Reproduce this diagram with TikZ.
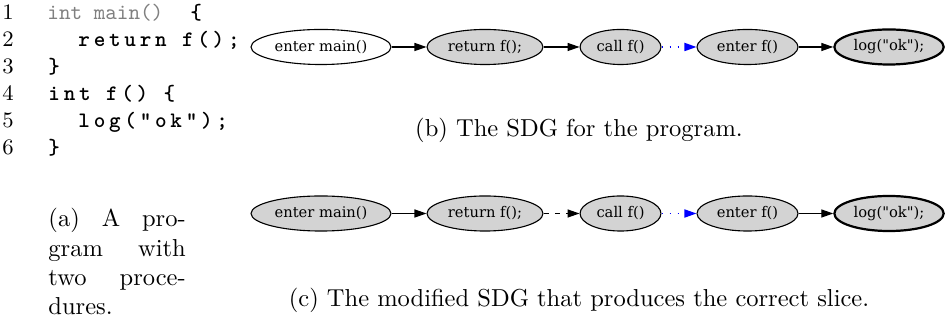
\documentclass[tikz,border=0pt]{standalone}
\usepackage{fontspec}
\newfontfamily\gvfont{DejaVu Serif}
\newfontfamily\codebf{lmmonolt10-bold.otf}[LetterSpace=17]
\newfontfamily\codereg{lmmono10-regular.otf}
\usetikzlibrary{shapes.geometric,arrows.meta}
\definecolor{nodegray}{RGB}{211,211,211}
\definecolor{codegray}{RGB}{128,128,128}
\begin{document}
\begin{tikzpicture}[x=0.408pt,y=-0.408pt,
  gv/.style={ellipse,draw=black,line width=0.45pt,inner sep=0pt,
    font=\gvfont\fontsize{6}{7}\selectfont,minimum height=14.3pt},
  gvg/.style={gv,fill=nodegray},
  gvw/.style={gv,fill=white},
  crit/.style={line width=0.9pt},
  tip/.style={-{Triangle[length=4.9pt,width=3.3pt]}},
  gvedge/.style={tip,draw=black,line width=0.45pt},
  calledge/.style={-{Triangle[length=4.9pt,width=3.3pt,fill=blue]},draw=blue,line width=0.6pt,dash pattern=on 0.6pt off 2.7pt},
  dashedge/.style={gvedge,dash pattern=on 2.3pt off 2.3pt},
  lnum/.style={anchor=base west,inner sep=0pt,font=\fontsize{9}{11}\selectfont},
  codeb/.style={anchor=base west,inner sep=0pt,font=\codebf\fontsize{9}{11}\selectfont},
  codeg/.style={anchor=base west,inner sep=0pt,font=\codereg\fontsize{9}{11}\selectfont,text=codegray},
  captext/.style={anchor=base,inner sep=0pt,font=\fontsize{10}{12}\selectfont}
]
\useasboundingbox (0,0) rectangle (945,320);

% code listing
\node[lnum] (n1) at (2,20) {1};
\node[lnum] (n2) at (2,47) {2};
\node[lnum] (n3) at (2,74) {3};
\node[lnum] (n4) at (2,101) {4};
\node[lnum] (n5) at (2,128) {5};
\node[lnum] (n6) at (2,155) {6};
\node[codeg] (c1) at (47,20) {int main()};
\node[codeb] (c1b) at (190,20) {\{};
\node[codeb] (c2) at (78,47) {return f();};
\node[codeb] (c3) at (48,74) {\}};
\node[codeb] (c4) at (48,101) {int f() \{};
\node[codeb] (c5) at (78,128) {log("ok");};
\node[codeb] (c6) at (48,155) {\}};

% caption (a)
\node[anchor=base west,inner sep=0pt,font=\fontsize{10}{12}\selectfont] (capa) at (48,226.7)
  {\parbox[t]{56pt}{(a)\hfill A\hfill pro-\\ gram\hfill with\\ two\hfill proce-\\ dures.}};

% graph (b)
\node[gvw,minimum width=57.1pt] (em1) at (321,47) {enter main()};
\node[gvg,minimum width=47.3pt] (rf1) at (485,47) {return f();};
\node[gvg,minimum width=33pt] (cf1) at (620.5,47) {call f()};
\node[gvg,minimum width=41.2pt] (ef1) at (747.5,47) {enter f()};
\node[gvg,crit,minimum width=44.6pt] (lg1) at (889,47) {log("ok");};
\draw[gvedge] (em1) -- (rf1);
\draw[gvedge] (rf1) -- (cf1);
\draw[calledge] (cf1) -- (ef1);
\draw[gvedge] (ef1) -- (lg1);
\node[captext] (capb) at (579,137) {(b) The SDG for the program.};

% graph (c)
\node[gvg,minimum width=57.1pt] (em2) at (321,213.5) {enter main()};
\node[gvg,minimum width=47.3pt] (rf2) at (485,213.5) {return f();};
\node[gvg,minimum width=33pt] (cf2) at (620.5,213.5) {call f()};
\node[gvg,minimum width=41.2pt] (ef2) at (747.5,213.5) {enter f()};
\node[gvg,crit,minimum width=44.6pt] (lg2) at (889,213.5) {log("ok");};
\draw[gvedge] (em2) -- (rf2);
\draw[dashedge] (rf2) -- (cf2);
\draw[calledge] (cf2) -- (ef2);
\draw[gvedge] (ef2) -- (lg2);
\node[captext] (capc) at (579,307) {(c) The modified SDG that produces the correct slice.};
\end{tikzpicture}
\end{document}
